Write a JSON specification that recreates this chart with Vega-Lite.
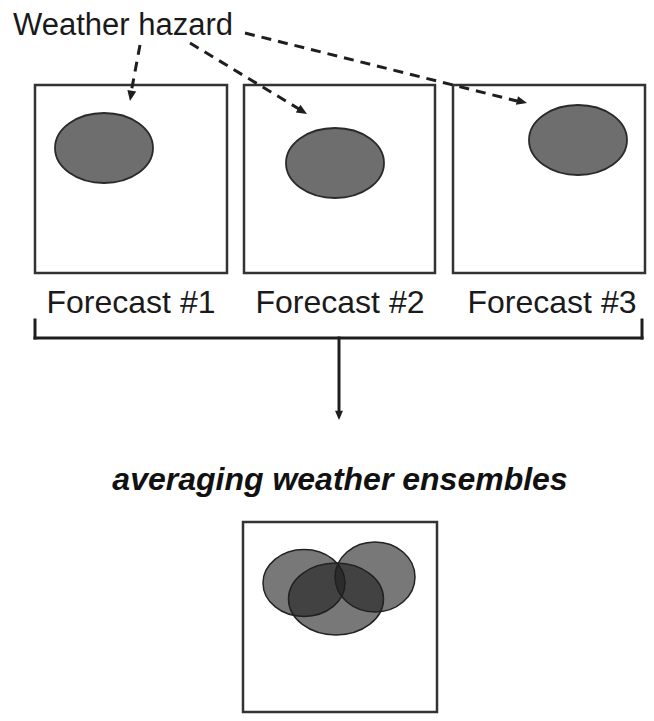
{
  "$schema": "https://vega.github.io/schema/vega-lite/v6.json",
  "width": 654,
  "height": 721,
  "padding": 0,
  "autosize": {"type": "fit", "contains": "padding"},
  "background": "white",
  "config": {"view": {"stroke": null}},
  "datasets": {
    "boxes": [
      {"x": 35, "x2": 227, "y": 85, "y2": 273, "panel": "Forecast #1"},
      {"x": 244, "x2": 435, "y": 85, "y2": 273, "panel": "Forecast #2"},
      {"x": 453, "x2": 645, "y": 85, "y2": 273, "panel": "Forecast #3"},
      {"x": 243, "x2": 437, "y": 522, "y2": 712, "panel": "Ensemble average"}
    ],
    "labels": [
      {"x": 131, "y": 313, "label": "Forecast #1"},
      {"x": 340, "y": 313, "label": "Forecast #2"},
      {"x": 552, "y": 313, "label": "Forecast #3"}
    ],
    "note": [{"x": 13, "y": 35, "label": "Weather hazard"}],
    "title": [{"x": 340, "y": 490, "label": "averaging weather ensembles"}],
    "hazards": [
      {"x": 104, "y": 148, "forecast": "#1"},
      {"x": 335, "y": 163, "forecast": "#2"},
      {"x": 578, "y": 140, "forecast": "#3"}
    ],
    "ensemble": [
      {"x": 304, "y": 583, "member": "#1"},
      {"x": 375, "y": 577, "member": "#3"},
      {"x": 336, "y": 599, "member": "#2"}
    ],
    "dashed": [
      {"x": 140, "y": 45, "x2": 131, "y2": 93, "id": "a1"},
      {"x": 190, "y": 43, "x2": 299, "y2": 109, "id": "a2"},
      {"x": 245, "y": 33, "x2": 517, "y2": 101, "id": "a3"}
    ],
    "heads": [
      {"x": 130, "y": 101, "id": "a1"},
      {"x": 307, "y": 114, "id": "a2"},
      {"x": 527, "y": 103, "id": "a3"},
      {"x": 339, "y": 420, "id": "down"}
    ],
    "bracket": [
      {"x": 35, "y": 320, "x2": 35, "y2": 338},
      {"x": 35, "y": 338, "x2": 642, "y2": 338},
      {"x": 642, "y": 320, "x2": 642, "y2": 338},
      {"x": 339, "y": 338, "x2": 339, "y2": 411}
    ]
  },
  "layer": [
    {
      "data": {"name": "boxes"},
      "mark": {"type": "rect", "fill": "white", "stroke": "#333333", "strokeWidth": 2.5},
      "encoding": {
        "x": {"field": "x", "type": "quantitative", "axis": null, "scale": {"domain": [0, 654], "nice": false, "zero": false}},
        "x2": {"field": "x2"},
        "y": {"field": "y", "type": "quantitative", "axis": null, "scale": {"domain": [0, 721], "nice": false, "zero": false, "reverse": true}},
        "y2": {"field": "y2"}
      }
    },
    {
      "data": {"name": "hazards"},
      "mark": {"type": "point", "filled": true, "fill": "#6e6e6e", "fillOpacity": 1, "stroke": "#2a2a2a", "strokeWidth": 1.8, "opacity": 1, "size": 9604, "shape": "M-1,0A1,0.714 0 1,0 1,0A1,0.714 0 1,0 -1,0Z"},
      "encoding": {
        "x": {"field": "x", "type": "quantitative", "axis": null},
        "y": {"field": "y", "type": "quantitative", "axis": null}
      }
    },
    {
      "data": {"name": "ensemble"},
      "transform": [{"filter": "datum.member == '#1'"}],
      "mark": {"type": "point", "filled": true, "fill": "#1e1e1e", "fillOpacity": 0.6, "stroke": "#222222", "strokeWidth": 1.5, "opacity": 1, "size": 6724, "shape": "M-1,0A1,0.817 0 1,0 1,0A1,0.817 0 1,0 -1,0Z"},
      "encoding": {
        "x": {"field": "x", "type": "quantitative", "axis": null},
        "y": {"field": "y", "type": "quantitative", "axis": null}
      }
    },
    {
      "data": {"name": "ensemble"},
      "transform": [{"filter": "datum.member == '#3'"}],
      "mark": {"type": "point", "filled": true, "fill": "#1e1e1e", "fillOpacity": 0.6, "stroke": "#222222", "strokeWidth": 1.5, "opacity": 1, "size": 6400, "shape": "M-1,0A1,0.875 0 1,0 1,0A1,0.875 0 1,0 -1,0Z"},
      "encoding": {
        "x": {"field": "x", "type": "quantitative", "axis": null},
        "y": {"field": "y", "type": "quantitative", "axis": null}
      }
    },
    {
      "data": {"name": "ensemble"},
      "transform": [{"filter": "datum.member == '#2'"}],
      "mark": {"type": "point", "filled": true, "fill": "#1e1e1e", "fillOpacity": 0.6, "stroke": "#222222", "strokeWidth": 1.5, "opacity": 1, "size": 9025, "shape": "M-1,0A1,0.758 0 1,0 1,0A1,0.758 0 1,0 -1,0Z"},
      "encoding": {
        "x": {"field": "x", "type": "quantitative", "axis": null},
        "y": {"field": "y", "type": "quantitative", "axis": null}
      }
    },
    {
      "data": {"name": "dashed"},
      "mark": {"type": "rule", "stroke": "#1e1e1e", "strokeWidth": 3, "strokeDash": [10, 7]},
      "encoding": {
        "x": {"field": "x", "type": "quantitative", "axis": null},
        "y": {"field": "y", "type": "quantitative", "axis": null},
        "x2": {"field": "x2"},
        "y2": {"field": "y2"}
      }
    },
    {
      "data": {"name": "bracket"},
      "mark": {"type": "rule", "stroke": "#1e1e1e", "strokeWidth": 3, "strokeCap": "square"},
      "encoding": {
        "x": {"field": "x", "type": "quantitative", "axis": null},
        "y": {"field": "y", "type": "quantitative", "axis": null},
        "x2": {"field": "x2"},
        "y2": {"field": "y2"}
      }
    },
    {
      "data": {"name": "heads"},
      "transform": [{"filter": "datum.id == 'a1'"}],
      "mark": {"type": "point", "filled": true, "fill": "#1e1e1e", "opacity": 1, "size": 81, "angle": 10, "shape": "M0,0L-1,-2.3L1,-2.3Z"},
      "encoding": {
        "x": {"field": "x", "type": "quantitative", "axis": null},
        "y": {"field": "y", "type": "quantitative", "axis": null}
      }
    },
    {
      "data": {"name": "heads"},
      "transform": [{"filter": "datum.id == 'a2'"}],
      "mark": {"type": "point", "filled": true, "fill": "#1e1e1e", "opacity": 1, "size": 81, "angle": -59, "shape": "M0,0L-1,-2.3L1,-2.3Z"},
      "encoding": {
        "x": {"field": "x", "type": "quantitative", "axis": null},
        "y": {"field": "y", "type": "quantitative", "axis": null}
      }
    },
    {
      "data": {"name": "heads"},
      "transform": [{"filter": "datum.id == 'a3'"}],
      "mark": {"type": "point", "filled": true, "fill": "#1e1e1e", "opacity": 1, "size": 81, "angle": -76, "shape": "M0,0L-1,-2.3L1,-2.3Z"},
      "encoding": {
        "x": {"field": "x", "type": "quantitative", "axis": null},
        "y": {"field": "y", "type": "quantitative", "axis": null}
      }
    },
    {
      "data": {"name": "heads"},
      "transform": [{"filter": "datum.id == 'down'"}],
      "mark": {"type": "point", "filled": true, "fill": "#1e1e1e", "opacity": 1, "size": 64, "angle": 0, "shape": "M0,0L-1,-2.3L1,-2.3Z"},
      "encoding": {
        "x": {"field": "x", "type": "quantitative", "axis": null},
        "y": {"field": "y", "type": "quantitative", "axis": null}
      }
    },
    {
      "data": {"name": "labels"},
      "mark": {"type": "text", "font": "Liberation Sans", "fontSize": 32, "color": "#1a1a1a", "align": "center", "baseline": "alphabetic"},
      "encoding": {
        "x": {"field": "x", "type": "quantitative", "axis": null},
        "y": {"field": "y", "type": "quantitative", "axis": null},
        "text": {"field": "label"}
      }
    },
    {
      "data": {"name": "note"},
      "mark": {"type": "text", "font": "Liberation Sans", "fontSize": 31, "color": "#1a1a1a", "align": "left", "baseline": "alphabetic"},
      "encoding": {
        "x": {"field": "x", "type": "quantitative", "axis": null},
        "y": {"field": "y", "type": "quantitative", "axis": null},
        "text": {"field": "label"}
      }
    },
    {
      "data": {"name": "title"},
      "mark": {"type": "text", "font": "Liberation Sans", "fontSize": 32, "fontWeight": "bold", "fontStyle": "italic", "color": "#111111", "align": "center", "baseline": "alphabetic"},
      "encoding": {
        "x": {"field": "x", "type": "quantitative", "axis": null},
        "y": {"field": "y", "type": "quantitative", "axis": null},
        "text": {"field": "label"}
      }
    }
  ]
}
